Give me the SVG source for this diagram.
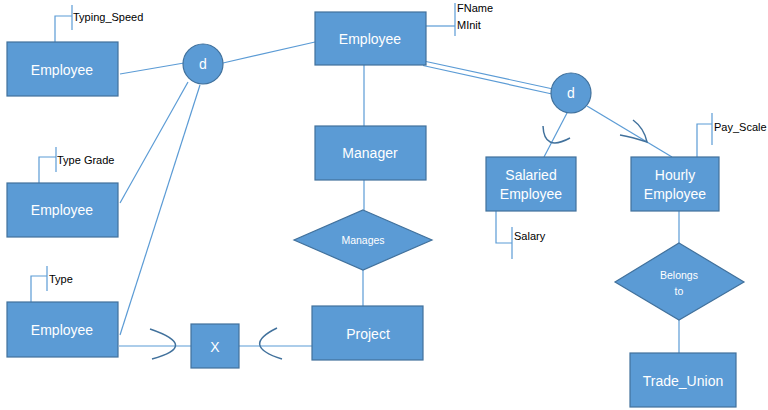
<svg xmlns="http://www.w3.org/2000/svg" width="768" height="410" viewBox="0 0 768 410">
<style>
.ent{fill:#5B9BD5;stroke:#41719C;stroke-width:1.2}
.t{font-family:"Liberation Sans",Arial,sans-serif;fill:#fff;text-anchor:middle}
.big{font-size:14px}
.sm{font-size:10.5px}
.at{font-family:"Liberation Sans",Arial,sans-serif;fill:#000;font-size:11px}
.ln{stroke:#5B9BD5;stroke-width:1.2;fill:none}
.cv{stroke:#41719C;stroke-width:1.5;fill:none}
</style>
<rect width="768" height="410" fill="#fff"/>
<g id="connectors">
<line class="ln" x1="120" y1="74" x2="184" y2="63"/>
<line class="ln" x1="223" y1="63" x2="315" y2="42"/>
<line class="ln" x1="188" y1="82" x2="120" y2="203"/>
<line class="ln" x1="200" y1="85" x2="120" y2="335"/>
<line class="ln" x1="119" y1="346" x2="191" y2="346"/>
<line class="ln" x1="239" y1="346" x2="312" y2="346"/>
<line class="ln" x1="364" y1="65" x2="364" y2="126"/>
<line class="ln" x1="364" y1="180" x2="364" y2="210"/>
<line class="ln" x1="363" y1="270" x2="363" y2="306"/>
<line class="ln" x1="426" y1="61.5" x2="553" y2="89"/>
<line class="ln" x1="423" y1="65.5" x2="552" y2="94"/>
<line class="ln" x1="567" y1="113" x2="544" y2="157"/>
<line class="ln" x1="587" y1="106" x2="672" y2="157"/>
<line class="ln" x1="679" y1="211" x2="679" y2="243"/>
<line class="ln" x1="679" y1="320" x2="679" y2="353"/>
<path class="cv" d="M150,329 Q200,346 152,359"/>
<path class="cv" d="M277,328 Q240,346 282,359"/>
<path class="cv" d="M543,126 Q544,152 570,138"/>
<path class="cv" d="M633,120 Q644,128 647,142 Q632,137 620,135"/>
</g>
<g id="attr-typing-speed">
<polyline class="ln" points="55,42 55,16 72,16"/>
<line class="ln" x1="72" y1="5" x2="72" y2="30"/>
<text class="at" x="73" y="21">Typing_Speed</text>
</g>
<g id="attr-type-grade">
<polyline class="ln" points="39,183 39,157 56,157"/>
<line class="ln" x1="56" y1="147" x2="56" y2="172"/>
<text class="at" x="57" y="164">Type Grade</text>
</g>
<g id="attr-type">
<polyline class="ln" points="31,302 31,276 47,276"/>
<line class="ln" x1="47" y1="266" x2="47" y2="291"/>
<text class="at" x="49" y="283">Type</text>
</g>
<g id="attr-fname">
<line class="ln" x1="426" y1="26" x2="455" y2="26"/>
<line class="ln" x1="455" y1="3" x2="455" y2="36"/>
<text class="at" x="457" y="12">FName</text>
<text class="at" x="457" y="29">MInit</text>
</g>
<g id="attr-pay-scale">
<polyline class="ln" points="697,157 697,124 712,124"/>
<line class="ln" x1="712" y1="113" x2="712" y2="145"/>
<text class="at" x="714" y="131">Pay_Scale</text>
</g>
<g id="attr-salary">
<polyline class="ln" points="496,211 496,243 512,243"/>
<line class="ln" x1="512" y1="227" x2="512" y2="259"/>
<text class="at" x="514" y="240">Salary</text>
</g>
<g id="employee-1">
<rect class="ent" x="7" y="42" width="111" height="54"/>
<text class="t big" x="62" y="75">Employee</text>
</g>
<g id="employee-2">
<rect class="ent" x="7" y="183" width="111" height="54"/>
<text class="t big" x="62" y="215">Employee</text>
</g>
<g id="employee-3">
<rect class="ent" x="7" y="302" width="111" height="55"/>
<text class="t big" x="62" y="335">Employee</text>
</g>
<g id="disjoint-1">
<circle class="ent" cx="203" cy="64" r="20"/>
<text class="t big" x="203" y="69">d</text>
</g>
<g id="employee-main">
<rect class="ent" x="315" y="12" width="111" height="53"/>
<text class="t big" x="370" y="44">Employee</text>
</g>
<g id="manager">
<rect class="ent" x="315" y="126" width="111" height="54"/>
<text class="t big" x="370" y="158">Manager</text>
</g>
<g id="manages">
<polygon class="ent" points="363,210 432,240 363,270 294,240"/>
<text class="t sm" x="363" y="244">Manages</text>
</g>
<g id="project">
<rect class="ent" x="312" y="306" width="111" height="54"/>
<text class="t big" x="368" y="339">Project</text>
</g>
<g id="x-box">
<rect class="ent" x="191" y="324" width="48" height="44"/>
<text class="t big" x="215" y="352">X</text>
</g>
<g id="disjoint-2">
<circle class="ent" cx="571" cy="93" r="20"/>
<text class="t big" x="571" y="98">d</text>
</g>
<g id="salaried">
<rect class="ent" x="486" y="157" width="90" height="54"/>
<text class="t big" x="531" y="180">Salaried</text>
<text class="t big" x="531" y="199">Employee</text>
</g>
<g id="hourly">
<rect class="ent" x="631" y="157" width="88" height="54"/>
<text class="t big" x="675" y="180">Hourly</text>
<text class="t big" x="675" y="199">Employee</text>
</g>
<g id="belongs-to">
<polygon class="ent" points="679,243 744,282 679,320 615,282"/>
<text class="t sm" x="679" y="279">Belongs</text>
<text class="t sm" x="679" y="295">to</text>
</g>
<g id="trade-union">
<rect class="ent" x="630" y="353" width="106" height="54"/>
<text class="t big" x="683" y="386">Trade_Union</text>
</g>
</svg>
